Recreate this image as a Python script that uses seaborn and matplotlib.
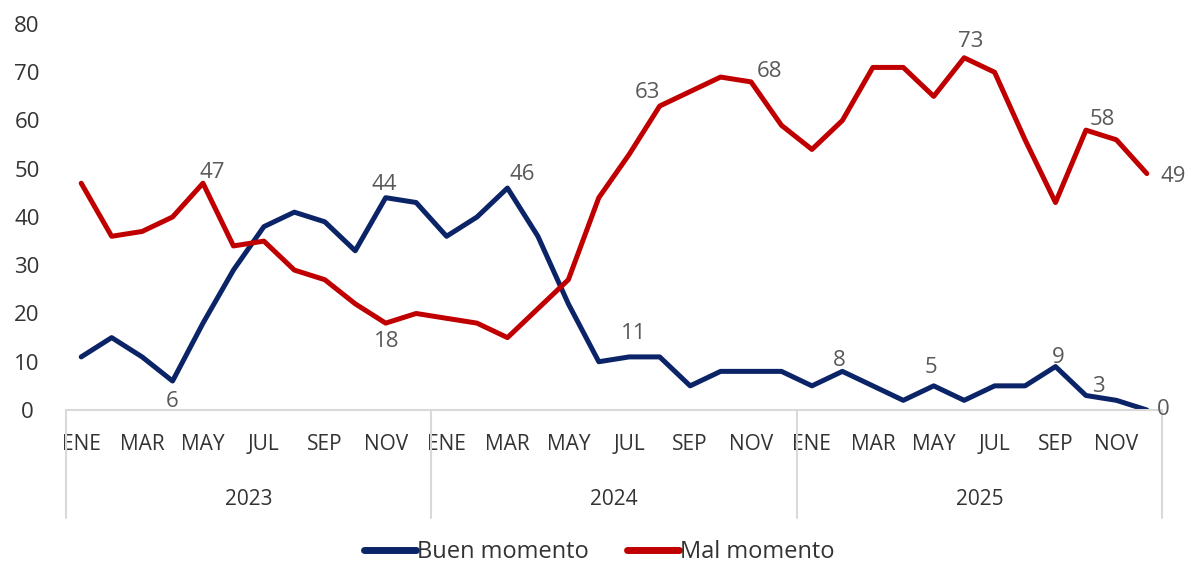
import pandas as pd
import numpy as np
import matplotlib
matplotlib.use("Agg")
import matplotlib.pyplot as plt
import matplotlib.transforms as mtransforms
from matplotlib.lines import Line2D
import seaborn as sns

# Data (monthly, Jan 2023 - Dec 2025)
months = ["ENE", "FEB", "MAR", "ABR", "MAY", "JUN",
          "JUL", "AGO", "SEP", "OCT", "NOV", "DIC"]
years = ["2023", "2024", "2025"]

buen = [11, 15, 11, 6, 18, 29, 38, 41, 39, 33, 44, 43,
        36, 40, 46, 36, 22, 10, 11, 11, 5, 8, 8, 8,
        5, 8, 5, 2, 5, 2, 5, 5, 9, 3, 2, 0]
mal = [47, 36, 37, 40, 47, 34, 35, 29, 27, 22, 18, 20,
       19, 18, 15, 21, 27, 44, 53, 63, 66, 69, 68, 59,
       54, 60, 71, 71, 65, 73, 70, 56, 43, 58, 56, 49]

# labelled points: index -> (offset x pt, offset y pt, ha)
buen_labels = {3: (0, -15, "center"), 10: (-1, 9.5, "center"), 14: (11, 9.5, "center"),
               18: (3, 17, "center"), 25: (-2, 8, "center"), 28: (-2, 13, "center"),
               32: (2, 6.5, "center"), 33: (9, 6.5, "center"), 35: (7, 0, "left")}
mal_labels = {4: (7, 8, "center"), 10: (1, -13, "center"), 19: (-9, 9.5, "center"),
              22: (13, 7.5, "center"), 29: (5, 12, "center"), 33: (12, 7.5, "center"),
              35: (10, -2, "left")}

n = len(buen)
df = pd.DataFrame({
    "idx": list(range(n)) * 2,
    "valor": buen + mal,
    "serie": ["Buen momento"] * n + ["Mal momento"] * n,
})

sns.set_theme(style="white")
plt.rcParams["font.family"] = ["Open Sans", "DejaVu Sans"]

colors = {"Buen momento": "#0B2467", "Mal momento": "#C00000"}
text_c = "#333333"
label_c = "#595959"

fig = plt.figure(figsize=(11.91, 5.62), dpi=100)
ax = fig.add_axes([0.0554, 0.2705, 0.9203, 0.6868])

sns.lineplot(data=df, x="idx", y="valor", hue="serie", palette=colors,
             linewidth=3.6, ax=ax, legend=False)

ax.set_xlim(-0.5, n - 0.5)
ax.set_ylim(0, 80)
ax.set_yticks(range(0, 81, 10))
ax.tick_params(axis="y", labelsize=16, colors=text_c, length=0, pad=28)
for t in ax.get_yticklabels():
    t.set_horizontalalignment("center")

xt = list(range(0, n, 2))
ax.set_xticks(xt)
ax.set_xticklabels([months[i % 12] for i in xt])
ax.tick_params(axis="x", labelsize=15, colors=text_c, length=0, pad=17)
ax.set_xlabel("")
ax.set_ylabel("")

for s in ["top", "right", "left"]:
    ax.spines[s].set_visible(False)
ax.spines["bottom"].set_color("#D9D9D9")
ax.spines["bottom"].set_linewidth(1.5)

# year separators and year labels
tr = mtransforms.blended_transform_factory(ax.transData, ax.transAxes)
for b in [-0.5, 11.5, 23.5, 35.5]:
    ax.add_line(Line2D([b, b], [0, -0.28], transform=tr, color="#D9D9D9",
                       linewidth=1.5, clip_on=False))
for i, y in enumerate(years):
    ax.text(i * 12 + 5.5, -0.233, y, transform=tr, ha="center", va="center",
            fontsize=15, color=text_c)

# data labels
for series, labs in [(buen, buen_labels), (mal, mal_labels)]:
    for i, (dx, dy, ha) in labs.items():
        ax.annotate(str(series[i]), (i, series[i]), xytext=(dx, dy),
                    textcoords="offset points", ha=ha, va="center",
                    fontsize=16, color=label_c, annotation_clip=False)

handles = [Line2D([0], [0], color=colors[k], linewidth=5, solid_capstyle="round")
           for k in colors]
fig.legend(handles, list(colors), loc="center", bbox_to_anchor=(0.503, 0.018),
           ncol=2, frameon=False, fontsize=17, handlelength=2.2,
           handletextpad=0.05, columnspacing=1.6, labelcolor=text_c)

fig.savefig("out.png", dpi=100)
